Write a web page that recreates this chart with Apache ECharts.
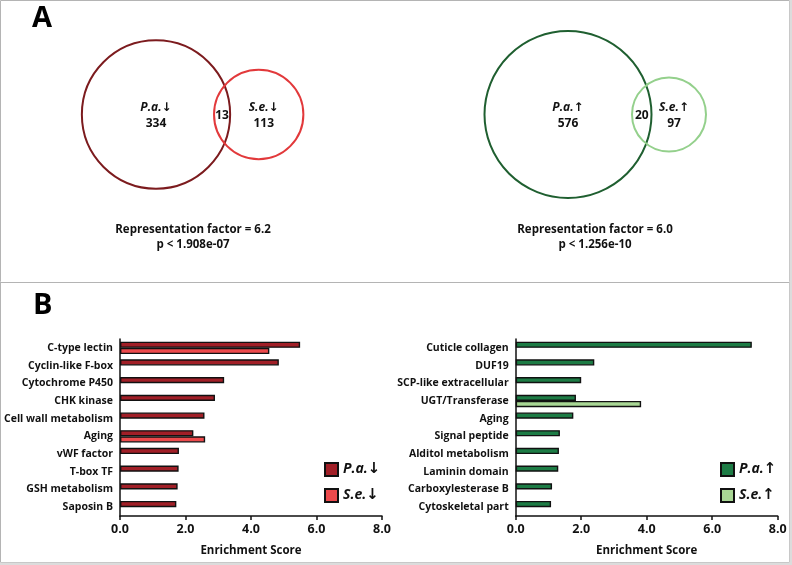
<!DOCTYPE html>
<html><head><meta charset="utf-8">
<script src="https://cdn.jsdelivr.net/npm/echarts@6/dist/echarts.min.js"></script>
<style>html,body{margin:0;padding:0;background:#fff}#c{width:792px;height:565px}</style>
</head><body><div id="c"></div>
<script>
// ---- data ----
const catsDown = ['C-type lectin','Cyclin-like F-box','Cytochrome P450','CHK kinase','Cell wall metabolism','Aging','vWF factor','T-box TF','GSH metabolism','Saposin B'];
const paDown = [5.50, 4.85, 3.18, 2.90, 2.58, 2.24, 1.80, 1.79, 1.76, 1.72];
const seDown = [4.56, null, null, null, null, 2.60, null, null, null, null];
const catsUp = ['Cuticle collagen','DUF19','SCP-like extracellular','UGT/Transferase','Aging','Signal peptide','Alditol metabolism','Laminin domain','Carboxylesterase B','Cytoskeletal part'];
const paUp = [7.21, 2.40, 2.00, 1.84, 1.76, 1.35, 1.32, 1.30, 1.11, 1.08];
const seUp = [null, null, null, 3.83, null, null, null, null, null, null];
const xTicks = [0, 2, 4, 6, 8];
const vennDown = [334, 13, 113];   // P.a. only, overlap, S.e. only
const vennUp = [576, 20, 97];
const repFactor = ['6.2', '6.0'];
const pValue = ['1.908e-07', '1.256e-10'];
const seriesNames = ['P.a.↓', 'S.e.↓', 'P.a.↑', 'S.e.↑'];

// ---- style ----
const FONT = '"Open Sans", "Noto Sans", sans-serif';
const AFONT = '"DejaVu Sans", sans-serif';
const cPaDown = '#a11f27', cSeDown = '#ec4a4c', cPaUp = '#1d7c45', cSeUp = '#a9d795';
const vPaDown = '#7c1b1e', vSeDown = '#e2393b', vPaUp = '#1f5f30', vSeUp = '#94d08c';

const chart = echarts.init(document.getElementById('c'));

// split "P.a.↓" into italic name and arrow rich text
const richName = s => '{i|' + s.slice(0, -1) + '}{a|' + s.slice(-1) + '}';

function venn(counts, cx, cy, dist, k, colA, colB, nameA, nameB, rf, p, txCx) {
  const rA = k * Math.sqrt(counts[0] + counts[1]);
  const rB = k * Math.sqrt(counts[2] + counts[1]);
  const bx = cx + dist;
  const els = [
    {type:'circle', shape:{cx:cx, cy:cy, r:rA}, style:{fill:'none', stroke:colA, lineWidth:2}},
    {type:'circle', shape:{cx:bx, cy:cy, r:rB}, style:{fill:'none', stroke:colB, lineWidth:2}},
  ];
  const tx = (x, y, t, size) => ({type:'text', x:x, y:y, style:{text:t, font:'bold ' + (size||12) + 'px '+FONT, fill:'#111', align:'center', verticalAlign:'middle'}});
  const rt = (x, y, t) => ({type:'text', x:x, y:y, style:{text:richName(t), align:'center', verticalAlign:'middle', fill:'#111',
      rich:{i:{fontFamily:FONT, fontWeight:'bold', fontStyle:'italic', fontSize:12, fill:'#111'},
            a:{fontFamily:AFONT, fontWeight:'bold', fontSize:12, fill:'#111'}}}});
  els.push(rt(cx, cy - 7, nameA), tx(cx, cy + 9, String(counts[0])));
  els.push(tx((cx + rA + bx - rB) / 2, cy + 1, String(counts[1])));
  els.push(rt(bx + 5, cy - 7, nameB), tx(bx + 5, cy + 9, String(counts[2])));
  els.push(tx(txCx, 229.5, 'Representation factor = ' + rf, 11.5), tx(txCx, 245, 'p < ' + p, 11.5));
  return els;
}

const graphics = [
  {type:'rect', shape:{x:0.5, y:0.5, width:789, height:562}, style:{fill:'none', stroke:'#b4b4b4', lineWidth:1}},
  {type:'line', shape:{x1:0.5, y1:282.5, x2:789.5, y2:282.5}, style:{stroke:'#b4b4b4', lineWidth:1}},
  {type:'rect', shape:{x:789.5, y:0, width:3, height:565}, style:{fill:'#dcdcdc'}},
  {type:'rect', shape:{x:0, y:562.5, width:792, height:3}, style:{fill:'#dcdcdc'}},
  {type:'text', x:32, y:4, style:{text:'A', font:'bold 29px '+FONT, fill:'#000'}},
  {type:'text', x:33, y:291, style:{text:'B', font:'bold 29px '+FONT, fill:'#000'}},
].concat(
  venn(vennDown, 156, 114.5, 102.7, 3.98, vPaDown, vSeDown, seriesNames[0], seriesNames[1], repFactor[0], pValue[0], 193),
  venn(vennUp, 568, 114.5, 101, 3.42, vPaUp, vSeUp, seriesNames[2], seriesNames[3], repFactor[1], pValue[1], 595)
);

const xAxisCommon = {
  type:'value', min:0, max:8, interval:2,
  name:'Enrichment Score', nameLocation:'middle', nameGap:29,
  nameTextStyle:{fontFamily:FONT, fontWeight:'bold', fontSize:11.5, color:'#111'},
  axisLine:{show:true, lineStyle:{color:'#111', width:1.5}},
  axisTick:{show:true, length:4, lineStyle:{color:'#111', width:1.5}},
  axisLabel:{fontFamily:FONT, fontWeight:'bold', fontSize:12.5, color:'#111', margin:7,
             formatter: v => xTicks.includes(v) ? v.toFixed(1) : ''},
  splitLine:{show:false}
};
const yAxisCommon = {
  type:'category', inverse:true,
  axisLine:{show:true, lineStyle:{color:'#111', width:1.5}},
  axisTick:{show:false},
  axisLabel:{fontFamily:FONT, fontWeight:'bold', fontSize:10.5, color:'#111', margin:7},
};
const barStyle = c => ({color:c, borderColor:'#111', borderWidth:1.4});
const legendText = {
  fontSize:14, color:'#111',
  rich:{i:{fontFamily:FONT, fontWeight:'bold', fontStyle:'italic', fontSize:14, color:'#111'},
        a:{fontFamily:AFONT, fontWeight:'bold', fontSize:15, color:'#111'}}
};

chart.setOption({
  animation:false,
  graphic: graphics,
  grid:[
    {left:120, width:262, top:339, height:177},
    {left:515.7, width:262, top:339, height:177}
  ],
  xAxis:[Object.assign({gridIndex:0}, xAxisCommon), Object.assign({gridIndex:1}, xAxisCommon)],
  yAxis:[Object.assign({gridIndex:0, data:catsDown}, yAxisCommon), Object.assign({gridIndex:1, data:catsUp}, yAxisCommon)],
  legend:[
    {left:319, top:457, orient:'vertical', itemWidth:13, itemHeight:13, itemGap:11, icon:'rect',
     data:[seriesNames[0], seriesNames[1]], formatter: richName, textStyle:legendText},
    {left:715, top:457, orient:'vertical', itemWidth:13, itemHeight:13, itemGap:11, icon:'rect',
     data:[seriesNames[2], seriesNames[3]], formatter: richName, textStyle:legendText}
  ],
  series:[
    {name:seriesNames[0], type:'bar', xAxisIndex:0, yAxisIndex:0, data:paDown, itemStyle:barStyle(cPaDown), barGap:'0%', barCategoryGap:'30%'},
    {name:seriesNames[1], type:'bar', xAxisIndex:0, yAxisIndex:0, data:seDown, itemStyle:barStyle(cSeDown), barGap:'0%', barCategoryGap:'30%'},
    {name:seriesNames[2], type:'bar', xAxisIndex:1, yAxisIndex:1, data:paUp, itemStyle:barStyle(cPaUp), barGap:'0%', barCategoryGap:'30%'},
    {name:seriesNames[3], type:'bar', xAxisIndex:1, yAxisIndex:1, data:seUp, itemStyle:barStyle(cSeUp), barGap:'0%', barCategoryGap:'30%'}
  ]
});
</script></body></html>
